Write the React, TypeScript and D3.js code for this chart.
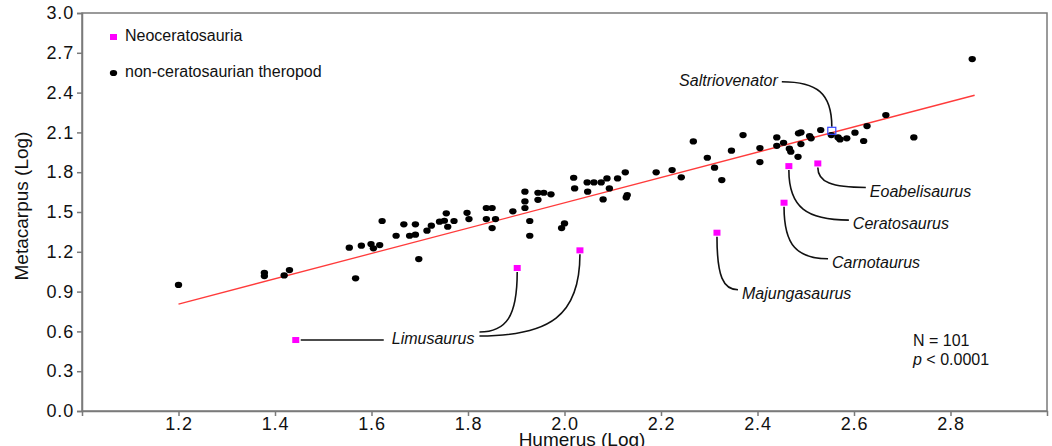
import React, { useRef, useEffect } from 'react';
import * as d3 from 'd3';

// non-ceratosaurian theropods (log humerus vs log metacarpus)
const humerus = [
  1.200, 1.378, 1.378, 1.419, 1.430, 1.554, 1.567, 1.579, 1.599, 1.604,
  1.617, 1.622, 1.651, 1.667, 1.679, 1.691, 1.691, 1.698, 1.715, 1.724,
  1.741, 1.751, 1.755, 1.758, 1.771, 1.798, 1.802, 1.838, 1.850, 1.838,
  1.857, 1.850, 1.893, 1.918, 1.918, 1.918, 1.928, 1.928, 1.945, 1.945,
  1.957, 1.972, 1.994, 2.000, 2.019, 2.021, 2.047, 2.048, 2.061, 2.076,
  2.080, 2.088, 2.093, 2.110, 2.126, 2.128, 2.130, 2.190, 2.223, 2.242,
  2.267, 2.296, 2.311, 2.326, 2.346, 2.370, 2.405, 2.405, 2.440, 2.440,
  2.454, 2.466, 2.469, 2.484, 2.485, 2.490, 2.490, 2.508, 2.511, 2.531,
  2.553, 2.567, 2.571, 2.585, 2.602, 2.620, 2.627, 2.666, 2.724, 2.845,
];
const metacarpus = [
  0.950, 1.042, 1.017, 1.022, 1.062, 1.231, 1.000, 1.246, 1.258, 1.226,
  1.251, 1.432, 1.321, 1.407, 1.321, 1.407, 1.329, 1.145, 1.359, 1.397,
  1.427, 1.434, 1.490, 1.389, 1.432, 1.494, 1.447, 1.530, 1.530, 1.447,
  1.447, 1.379, 1.505, 1.653, 1.580, 1.530, 1.432, 1.321, 1.645, 1.592,
  1.645, 1.633, 1.379, 1.414, 1.758, 1.678, 1.723, 1.653, 1.723, 1.723,
  1.595, 1.753, 1.678, 1.753, 1.799, 1.610, 1.628, 1.799, 1.816, 1.761,
  2.032, 1.909, 1.834, 1.741, 1.962, 2.080, 1.982, 1.876, 2.062, 1.999,
  2.022, 1.977, 1.954, 1.916, 2.093, 2.100, 2.012, 2.072, 2.055, 2.118,
  2.080, 2.062, 2.047, 2.055, 2.098, 2.035, 2.148, 2.231, 2.062, 2.653,
];

// Neoceratosauria
const neoNames = ['Limusaurus', 'Limusaurus', 'Limusaurus', 'Majungasaurus', 'Carnotaurus', 'Ceratosaurus', 'Eoabelisaurus'];
const neoHumerus = [1.443, 1.902, 2.032, 2.316, 2.455, 2.465, 2.525];
const neoMetacarpus = [0.535, 1.078, 1.211, 1.344, 1.570, 1.846, 1.866];

// Saltriovenator
const saltrioHumerus = [2.554];
const saltrioMetacarpus = [2.112];

// regression line ends
const regHumerus = [1.2, 2.85];
const regMetacarpus = [0.806, 2.38];

const xTicks = [1.2, 1.4, 1.6, 1.8, 2.0, 2.2, 2.4, 2.6, 2.8];
const yTicks = [0.0, 0.3, 0.6, 0.9, 1.2, 1.5, 1.8, 2.1, 2.4, 2.7, 3.0];

const FONT = '"Liberation Sans", Arial, Helvetica, sans-serif';

const App = () => {
  const chart = useRef<SVGSVGElement>(null);

  useEffect(() => {
    const width = 1052;
    const height = 446;
    const left = 82, right = 1047, top = 13, bottom = 411;
    const grey = '#7a7a7a';

    const svg = d3.select(chart.current);
    svg.selectAll('*').remove();
    svg.attr('width', width).attr('height', height);

    const x = d3.scaleLinear().domain([1.0, 3.0]).range([left, right]);
    const y = d3.scaleLinear().domain([0, 3.0]).range([bottom, top]);

    svg.append('rect')
      .attr('x', left).attr('y', top)
      .attr('width', right - left).attr('height', bottom - top)
      .attr('fill', 'white').attr('stroke', grey).attr('stroke-width', 1.5);

    const yAxis = svg.append('g')
      .attr('transform', `translate(${left},0)`)
      .call(d3.axisLeft(y).tickValues(yTicks).tickFormat(d3.format('.1f')).tickSize(5).tickPadding(3));
    const xAxis = svg.append('g')
      .attr('transform', `translate(0,${bottom})`)
      .call(d3.axisBottom(x).tickValues(xTicks).tickFormat(d3.format('.1f')).tickSize(5).tickPadding(1));

    [yAxis, xAxis].forEach(ax => {
      ax.select('.domain').attr('stroke', grey).attr('stroke-width', 1.5);
      ax.selectAll('line').attr('stroke', grey).attr('stroke-width', 1.5);
      ax.selectAll('text').attr('fill', '#111')
        .style('font-family', FONT).style('font-size', '18px').style('letter-spacing', '0.8px');
    });

    svg.append('text')
      .attr('x', 582).attr('y', 446)
      .attr('text-anchor', 'middle')
      .style('font-family', FONT).style('font-size', '19px').attr('fill', '#111')
      .text('Humerus (Log)');
    svg.append('text')
      .attr('transform', 'translate(28,206) rotate(-90)')
      .attr('text-anchor', 'middle')
      .style('font-family', FONT).style('font-size', '19px').attr('fill', '#111')
      .text('Metacarpus (Log)');

    // regression
    const line = d3.line<number>()
      .x(i => x(regHumerus[i]))
      .y(i => y(regMetacarpus[i]));
    svg.append('path')
      .datum([0, 1])
      .attr('d', line)
      .attr('fill', 'none')
      .attr('stroke', '#ff3b3b')
      .attr('stroke-width', 1.3);

    // black dots
    svg.selectAll('.dot')
      .data(humerus.map((h, i) => ({ h, m: metacarpus[i] })))
      .enter()
      .append('ellipse')
      .attr('cx', d => x(d.h))
      .attr('cy', d => y(d.m))
      .attr('rx', 3.7)
      .attr('ry', 3.1)
      .attr('fill', '#000');

    // leader lines
    const leader = (sx: number, sy: number, ex: number, ey: number) =>
      `M${sx},${sy} C${sx},${sy + 0.75 * (ey - sy)} ${sx + 0.3 * (ex - sx)},${ey} ${ex},${ey}`;

    const labelFont = (sel: any) => sel
      .style('font-family', FONT).style('font-size', '16px').style('font-style', 'italic')
      .attr('fill', '#111').attr('dominant-baseline', 'middle');

    const neo = neoHumerus.map((h, i) => ({ name: neoNames[i], px: x(h), py: y(neoMetacarpus[i]) }));

    // Limusaurus group
    const lim = neo.filter(d => d.name === 'Limusaurus');
    const limX = lim[0].px + 96, limY = lim[0].py;
    const limT = svg.append('text').attr('x', limX).attr('y', limY).call(labelFont).text('Limusaurus');
    const limW = (limT.node() as SVGTextElement).getComputedTextLength();
    svg.append('path')
      .attr('d', `M${lim[0].px + 5},${lim[0].py} L${limX - 8},${limY}`)
      .attr('fill', 'none').attr('stroke', '#111').attr('stroke-width', 1.6);
    [lim[1], lim[2]].forEach((d, k) => {
      svg.append('path')
        .attr('d', leader(d.px, d.py + 4, limX + limW + 5, limY - 8 + 4 * k))
        .attr('fill', 'none').attr('stroke', '#111').attr('stroke-width', 1.6);
    });

    // other labelled species
    const offsets: Record<string, [number, number]> = {
      Majungasaurus: [25, 62],
      Carnotaurus: [48, 61],
      Ceratosaurus: [64, 59],
      Eoabelisaurus: [52, 29],
    };
    neo.filter(d => d.name !== 'Limusaurus').forEach(d => {
      const [dx, dy] = offsets[d.name];
      svg.append('path')
        .attr('d', leader(d.px, d.py + 4, d.px + dx - 4, d.py + dy - 5))
        .attr('fill', 'none').attr('stroke', '#111').attr('stroke-width', 1.6);
      svg.append('text').attr('x', d.px + dx).attr('y', d.py + dy).call(labelFont).text(d.name);
    });

    // Saltriovenator
    const sx = x(saltrioHumerus[0]), sy = y(saltrioMetacarpus[0]);
    svg.append('path')
      .attr('d', leader(sx, sy - 4, sx - 50, sy - 49))
      .attr('fill', 'none').attr('stroke', '#111').attr('stroke-width', 1.6);
    svg.append('text').attr('x', sx - 54).attr('y', sy - 49)
      .attr('text-anchor', 'end').call(labelFont).text('Saltriovenator');

    // pink squares
    svg.selectAll('.neo')
      .data(neo)
      .enter()
      .append('rect')
      .attr('x', d => d.px - 3.5)
      .attr('y', d => d.py - 3)
      .attr('width', 7)
      .attr('height', 6)
      .attr('fill', '#ff00ff');

    svg.append('rect')
      .attr('x', sx - 4).attr('y', sy - 3.5)
      .attr('width', 8).attr('height', 7)
      .attr('fill', 'none').attr('stroke', '#3344ff').attr('stroke-width', 1.2);

    // legend
    svg.append('rect').attr('x', 110).attr('y', 34).attr('width', 7).attr('height', 6).attr('fill', '#ff00ff');
    svg.append('ellipse').attr('cx', 113.5).attr('cy', 73).attr('rx', 3.7).attr('ry', 3.1).attr('fill', '#000');
    [['Neoceratosauria', 37], ['non-ceratosaurian theropod', 73]].forEach(([t, ty]) => {
      svg.append('text').attr('x', 125).attr('y', ty as number)
        .attr('dominant-baseline', 'middle')
        .style('font-family', FONT).style('font-size', '16px').attr('fill', '#111')
        .text(t as string);
    });

    // stats
    const stats = svg.append('g').style('font-family', FONT).style('font-size', '16px').attr('fill', '#111');
    stats.append('text').attr('x', 913).attr('y', 342).attr('dominant-baseline', 'middle').text('N = 101');
    const p = stats.append('text').attr('x', 913).attr('y', 361).attr('dominant-baseline', 'middle');
    p.append('tspan').style('font-style', 'italic').text('p');
    p.append('tspan').text(' < 0.0001');
  }, []);

  return (
    <svg ref={chart} style={{ position: 'absolute', left: 0, top: 0, background: 'white' }}></svg>
  );
};

export default App;
